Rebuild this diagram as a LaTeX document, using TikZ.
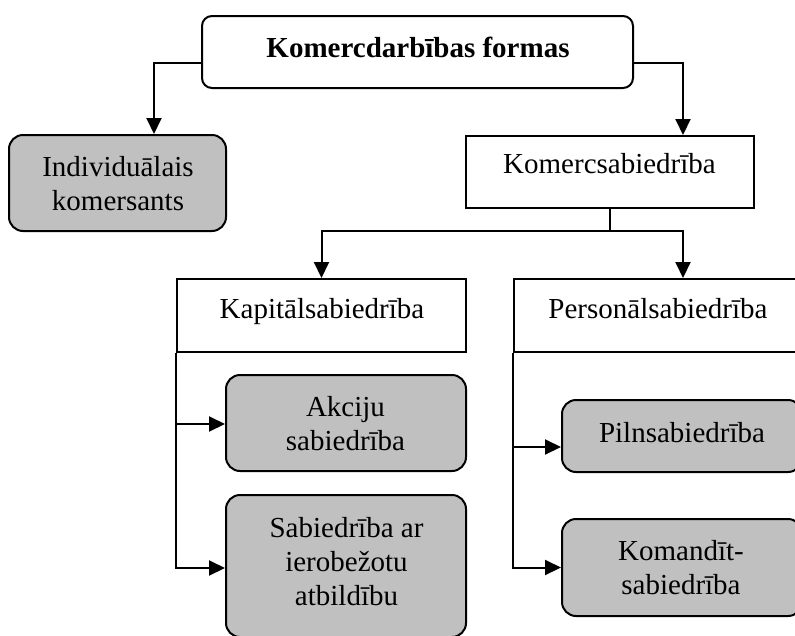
\documentclass[tikz,border=0pt]{standalone}
\usepackage{fontspec}
\setmainfont{Liberation Serif}
\usetikzlibrary{arrows.meta}
\definecolor{boxgray}{RGB}{192,192,192}
\begin{document}
\begin{tikzpicture}[x=1pt,y=-1pt,line width=2pt,
  plainbox/.style={draw,rectangle,fill=white,inner sep=0pt},
  graybox/.style={draw,rectangle,rounded corners=14pt,fill=boxgray,inner sep=0pt},
  topbox/.style={draw,rectangle,rounded corners=10pt,fill=white,inner sep=0pt},
  txt/.style={inner sep=0pt,align=center,font=\fontsize{29}{34}\selectfont},
  arr/.style={-{Triangle[length=16pt,width=15pt]}}]
\useasboundingbox (0,0) rectangle (795,635);
% boxes
\node[topbox,minimum width=431pt,minimum height=72pt] (top) at (417.5,52) {};
\node[graybox,minimum width=217pt,minimum height=96pt] (indiv) at (117.5,183) {};
\node[plainbox,minimum width=288pt,minimum height=72pt] (komerc) at (610,172) {};
\node[plainbox,minimum width=289pt,minimum height=73pt] (kap) at (321.5,315.5) {};
\node[plainbox,minimum width=286pt,minimum height=73pt] (pers) at (657,315.5) {};
\node[graybox,minimum width=240pt,minimum height=96pt] (akc) at (346,423) {};
\node[graybox,minimum width=240pt,minimum height=142pt] (sab) at (346,566) {};
\node[graybox,minimum width=240pt,minimum height=72pt] (pil) at (682,436) {};
\node[graybox,minimum width=240pt,minimum height=97pt] (kom) at (682,567.5) {};
% texts
\node[txt,font=\fontsize{29}{34}\selectfont\bfseries] (topt) at (418,50.2) {\strut Komercdarbības formas};
\node[txt] (indivt) at (118,186.7) {\strut Individuālais\\\strut komersants};
\node[txt] (komerct) at (609.5,166.2) {\strut Komercsabiedrība};
\node[txt] (kapt) at (322,311.2) {\strut Kapitālsabiedrība};
\node[txt] (perst) at (658,311.2) {\strut Personālsabiedrība};
\node[txt] (akct) at (345.5,427) {\strut Akciju\\\strut sabiedrība};
\node[txt] (sabt) at (346.5,564.5) {\strut Sabiedrība ar\\\strut ierobežotu\\\strut atbildību};
\node[txt] (pilt) at (682,435.2) {\strut Pilnsabiedrība};
\node[txt] (komt) at (681,570.7) {\strut Komandīt-\\\strut sabiedrība};
% connectors
\coordinate (jl) at (154,63);
\coordinate (jr) at (683,63);
\coordinate (jm) at (610,231);
\draw[arr] (top.west |- jl) -| (jl |- indiv.north);
\draw[arr] (top.east |- jr) -| (jr |- komerc.north);
\draw (komerc.south) -- (jm);
\draw[arr] (jm) -| (kap.north);
\draw[arr] (jm) -| (jr |- pers.north);
\draw[arr] (kap.south west) |- ([yshift=-1pt]akc.west);
\draw[arr] (kap.south west) |- ([yshift=-2pt]sab.west);
\draw[arr] (pers.south west) |- ([yshift=-11pt]pil.west);
\draw[arr] (pers.south west) |- (kom.west);
\end{tikzpicture}
\end{document}
